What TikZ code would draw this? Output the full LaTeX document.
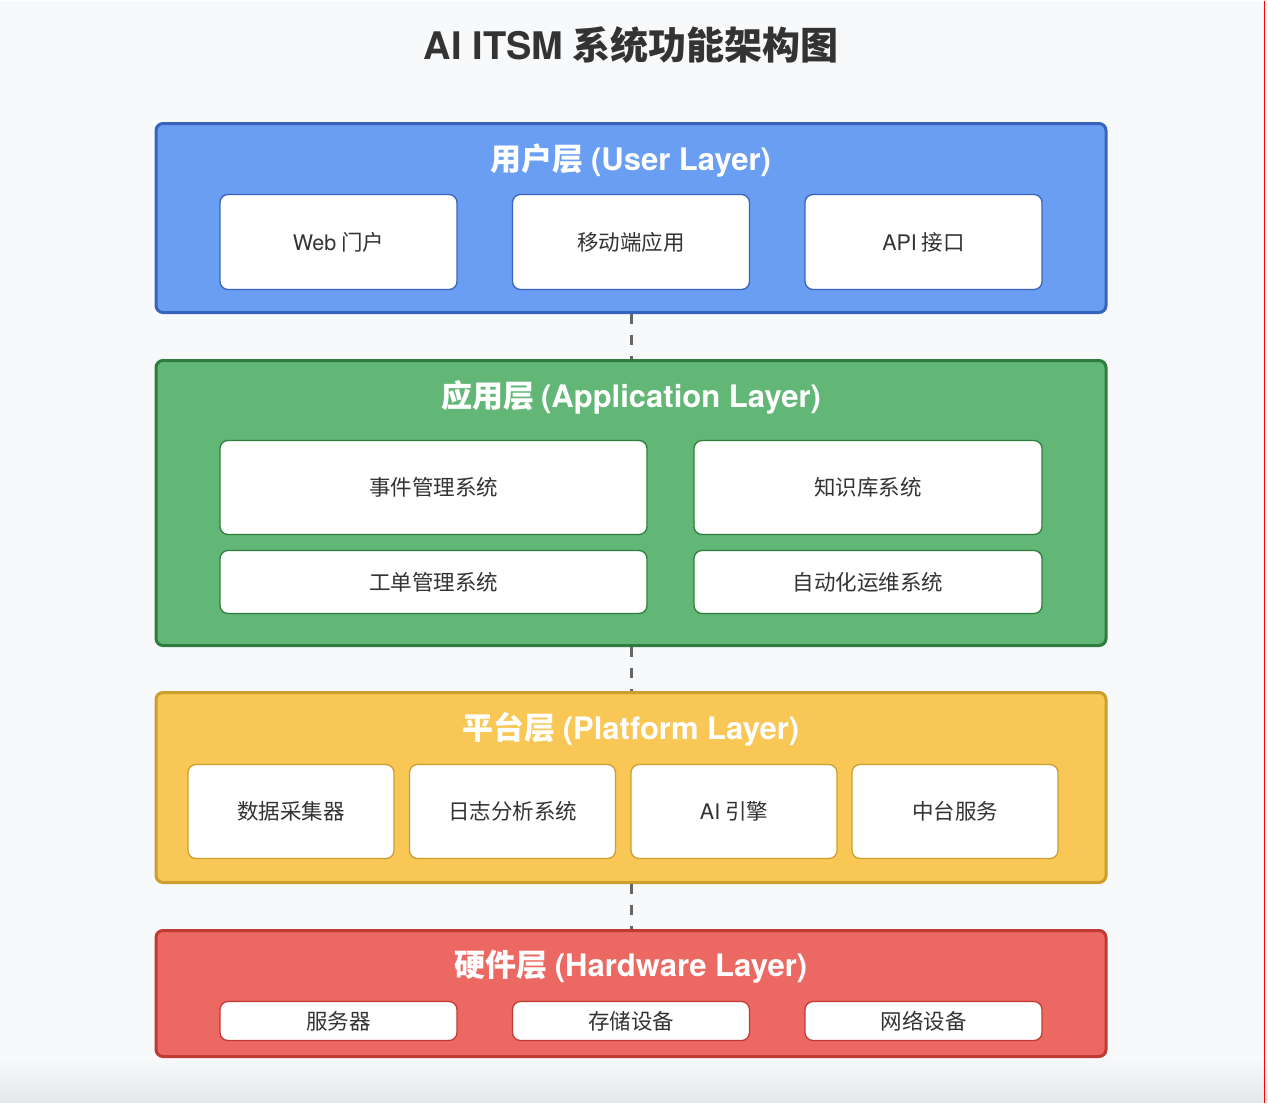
\documentclass[tikz,border=0pt]{standalone}
\usepackage{fontspec}
\setmainfont{Noto Sans CJK SC}
\newfontfamily\latinfont{TeX Gyre Heros}
\newcommand\lt[1]{{\latinfont #1}}
\newcommand\ltb[1]{{\latinfont\bfseries #1}}
\usepackage{tikz}
\usetikzlibrary{calc}

\definecolor{bgcol}{HTML}{F8F9FB}
\definecolor{bgdark}{HTML}{E6E7EA}
\definecolor{txtcol}{HTML}{333333}
\definecolor{userfill}{HTML}{6A9EF2}
\definecolor{userline}{HTML}{3763BD}
\definecolor{appfill}{HTML}{62B776}
\definecolor{appline}{HTML}{2E7D3C}
\definecolor{platfill}{HTML}{F8C755}
\definecolor{platline}{HTML}{CC9E2E}
\definecolor{hwfill}{HTML}{EC6963}
\definecolor{hwline}{HTML}{C03A33}

\tikzset{
  layerbox/.style={rounded corners=7pt, line width=3pt, minimum width=950pt, inner sep=0pt},
  layertitle/.style={text=white, font=\fontsize{31}{35}\selectfont\bfseries},
  itembox/.style={rounded corners=8pt, line width=1.3pt, fill=white, text=txtcol,
    font=\fontsize{21.5}{25}\selectfont, inner sep=0pt},
  linkline/.style={draw=black!60, line width=3pt, dash pattern=on 10pt off 11pt},
}

\begin{document}
\begin{tikzpicture}[x=1pt,y=-1pt]
        % background
        \fill[bgcol](0, 0) rectangle (1268, 1102);
        \shade[top color=bgcol, bottom color=bgdark](0, 1055) rectangle (1268, 1102);
        \draw[red, line width=1pt](1264.5, 0) -- (1264.5, 1102);
        \useasboundingbox (0, 0) rectangle (1268, 1102);

        \node (title) at (631, 45) [text=txtcol, font=\fontsize{38}{40}\selectfont\bfseries] {\ltb{AI ITSM} 系统功能架构图};

        % layers
        \node (user) at (631, 217.5) [layerbox, fill=userfill, draw=userline, minimum height=189pt] {};
        \node (app) at (631, 502.5) [layerbox, fill=appfill, draw=appline, minimum height=285pt] {};
        \node (plat) at (631, 787) [layerbox, fill=platfill, draw=platline, minimum height=190pt] {};
        \node (hw) at (631, 993) [layerbox, fill=hwfill, draw=hwline, minimum height=126pt] {};

        \node (usertitle) at (631, 160) [layertitle] {用户层 \ltb{(User Layer)}};
        \node (apptitle) at (631, 397) [layertitle] {应用层 \ltb{(Application Layer)}};
        \node (plattitle) at (631, 729) [layertitle] {平台层 \ltb{(Platform Layer)}};
        \node (hwtitle) at (631, 966) [layertitle] {硬件层 \ltb{(Hardware Layer)}};

        % user layer
        \node (web) at (338.5, 241.5) [itembox, draw=userline, minimum width=237pt, minimum height=95pt] {\lt{Web} 门户};
        \node (mobile) at (631, 241.5) [itembox, draw=userline, minimum width=237pt, minimum height=95pt] {移动端应用};
        \node (api) at (923.5, 241.5) [itembox, draw=userline, minimum width=237pt, minimum height=95pt] {\lt{API} 接口};

        % application layer
        \node (incident) at (433.5, 487) [itembox, draw=appline, minimum width=427pt, minimum height=94pt] {事件管理系统};
        \node (knowledge) at (868, 487) [itembox, draw=appline, minimum width=348pt, minimum height=94pt] {知识库系统};
        \node (ticket) at (433.5, 581.5) [itembox, draw=appline, minimum width=427pt, minimum height=63pt] {工单管理系统};
        \node (autoops) at (868, 581.5) [itembox, draw=appline, minimum width=348pt, minimum height=63pt] {自动化运维系统};

        % platform layer
        \node (collector) at (291, 811) [itembox, draw=platline, minimum width=206pt, minimum height=94pt] {数据采集器};
        \node (logs) at (512.5, 811) [itembox, draw=platline, minimum width=206pt, minimum height=94pt] {日志分析系统};
        \node (engine) at (734, 811) [itembox, draw=platline, minimum width=206pt, minimum height=94pt] {\lt{AI} 引擎};
        \node (middle) at (955, 811) [itembox, draw=platline, minimum width=206pt, minimum height=94pt] {中台服务};

        % hardware layer
        \node (server) at (338.5, 1020.5) [itembox, draw=hwline, minimum width=237pt, minimum height=39pt] {服务器};
        \node (storage) at (631, 1020.5) [itembox, draw=hwline, minimum width=237pt, minimum height=39pt] {存储设备};
        \node (network) at (923.5, 1020.5) [itembox, draw=hwline, minimum width=237pt, minimum height=39pt] {网络设备};

        % links between layers
        \draw[linkline](user.south) -- (app.north);
        \draw[linkline](app.south) -- (plat.north);
        \draw[linkline](plat.south) -- (hw.north);
    \end{tikzpicture}
\end{document}
